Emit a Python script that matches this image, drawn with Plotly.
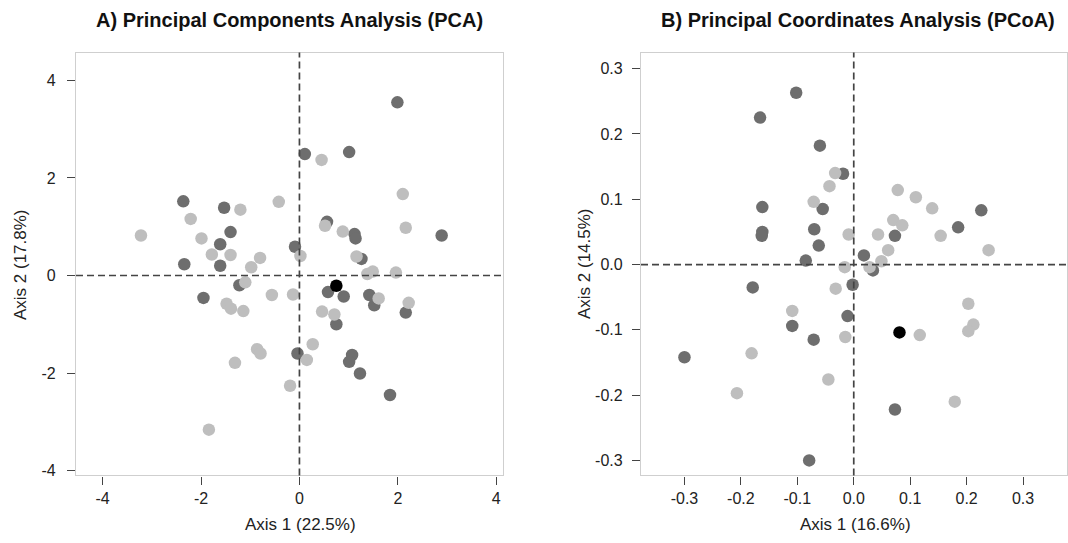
import plotly.graph_objects as go

# ---------------- Panel A: PCA ----------------
pca_dark_x = [0.11, -2.36, -1.53, -1.40, -1.61, -2.34, -1.61, -0.09, -1.22, 1.99, 1.01, 0.56, 1.12, 1.14,
              2.89, 1.26, -1.95, -0.04, 0.58, 0.90, 0.75, 1.07, 1.01, 1.23, 1.84, 1.42, 1.52, 2.16]
pca_dark_y = [2.49, 1.52, 1.39, 0.89, 0.64, 0.23, 0.20, 0.59, -0.20, 3.55, 2.53, 1.10, 0.85, 0.76,
              0.82, 0.34, -0.46, -1.60, -0.34, -0.43, -1.00, -1.63, -1.77, -2.01, -2.45, -0.40, -0.61, -0.76]
pca_light_x = [-1.20, -0.42, -2.21, -3.22, -1.99, -1.78, -1.40, -0.80, -0.98, 0.02, -1.10, 0.45, 2.10, 0.52,
               0.88, 2.16, 1.16, 1.38, 1.49, 1.96, -1.48, -1.39, -1.14, -0.56, -0.13, -0.86, -0.79, -1.31,
               0.15, -0.19, -1.84, 0.46, 0.71, 0.27, 1.61, 2.22]
pca_light_y = [1.35, 1.51, 1.16, 0.82, 0.76, 0.43, 0.42, 0.36, 0.17, 0.40, -0.14, 2.37, 1.67, 1.02,
               0.90, 0.98, 0.39, 0.03, 0.08, 0.06, -0.58, -0.68, -0.73, -0.40, -0.39, -1.51, -1.60, -1.79,
               -1.73, -2.26, -3.16, -0.74, -0.80, -1.41, -0.47, -0.56]
pca_black_x = [0.75]
pca_black_y = [-0.21]

# ---------------- Panel B: PCoA ----------------
pcoa_dark_x = [-0.102, -0.166, -0.060, -0.019, -0.055, -0.162, -0.162, -0.163, -0.070, -0.062, -0.085, -0.179,
               0.226, 0.185, 0.073, 0.018, 0.034, -0.002, -0.109, -0.071, -0.011, -0.300, -0.079, 0.073]
pcoa_dark_y = [0.263, 0.225, 0.182, 0.139, 0.085, 0.088, 0.050, 0.044, 0.054, 0.029, 0.006, -0.035,
               0.083, 0.057, 0.044, 0.014, -0.009, -0.031, -0.094, -0.115, -0.079, -0.142, -0.300, -0.222]
pcoa_light_x = [-0.033, -0.043, -0.071, -0.009, -0.016, -0.032, 0.078, 0.110, 0.139, 0.070, 0.086, 0.043,
                0.154, 0.061, 0.239, 0.049, 0.028, -0.109, -0.015, -0.181, -0.207, -0.045, 0.117, 0.203,
                0.212, 0.203, 0.179]
pcoa_light_y = [0.140, 0.120, 0.096, 0.046, -0.004, -0.037, 0.114, 0.103, 0.086, 0.068, 0.060, 0.046,
                0.044, 0.022, 0.022, 0.005, -0.004, -0.071, -0.111, -0.136, -0.197, -0.176, -0.108, -0.060,
                -0.092, -0.102, -0.210]
pcoa_black_x = [0.081]
pcoa_black_y = [-0.104]

pca_ticks = [-4, -2, 0, 2, 4]
pca_ticklabels = ["-4", "-2", "0", "2", "4"]
pcoa_xticks = [-0.3, -0.2, -0.1, 0.0, 0.1, 0.2, 0.3]
pcoa_xticklabels = ["-0.3", "-0.2", "-0.1", "0.0", "0.1", "0.2", "0.3"]
pcoa_yticks = [-0.3, -0.2, -0.1, 0.0, 0.1, 0.2, 0.3]
pcoa_yticklabels = ["-0.3", "-0.2", "-0.1", "0.0", "0.1", "0.2", "0.3"]

DARK = "#6e6e6e"
LIGHT = "#bebebe"
MS = 12.5

W, H = 1068, 543
fig = go.Figure()

def add_points(x, y, color, xa, ya):
    fig.add_trace(go.Scatter(x=x, y=y, mode="markers", xaxis=xa, yaxis=ya,
                             marker=dict(size=MS, color=color, line=dict(width=0)),
                             showlegend=False, hoverinfo="x+y"))

add_points(pca_dark_x, pca_dark_y, DARK, "x", "y")
add_points(pca_light_x, pca_light_y, LIGHT, "x", "y")
add_points(pca_black_x, pca_black_y, "#000000", "x", "y")
add_points(pcoa_dark_x, pcoa_dark_y, DARK, "x2", "y2")
add_points(pcoa_light_x, pcoa_light_y, LIGHT, "x2", "y2")
add_points(pcoa_black_x, pcoa_black_y, "#000000", "x2", "y2")

ytop = 1 - 53 / H
ybot = 1 - 479 / H

axis_common = dict(showgrid=False, zeroline=False, showline=True, mirror=True,
                   linecolor="#cfcfcf", linewidth=1.3,
                   ticks="outside", ticklen=8, tickwidth=1.3, tickcolor="#444444",
                   tickfont=dict(family="Liberation Sans, Arial", size=16, color="#222222"))

fig.update_layout(
    width=W, height=H,
    margin=dict(l=0, r=0, t=0, b=0),
    paper_bgcolor="white", plot_bgcolor="white",
    xaxis=dict(domain=[76 / W, 502.7 / W], range=[-4.54, 4.13], tickvals=pca_ticks,
               ticktext=pca_ticklabels, anchor="y", **axis_common),
    yaxis=dict(domain=[ybot, ytop], range=[-4.10, 4.57], tickvals=pca_ticks,
               ticktext=pca_ticklabels, ticklabelstandoff=8, anchor="x", **axis_common),
    xaxis2=dict(domain=[641 / W, 1066.5 / W], range=[-0.377, 0.377], tickvals=pcoa_xticks,
                ticktext=pcoa_xticklabels, anchor="y2", **axis_common),
    yaxis2=dict(domain=[ybot, ytop], range=[-0.323, 0.3245], tickvals=pcoa_yticks,
                ticktext=pcoa_yticklabels, ticklabelstandoff=6, anchor="x2", **axis_common),
)

dash_line = dict(color="#444444", width=1.7, dash="7px,4px")
for xr, yr in [("x", "y"), ("x2", "y2")]:
    fig.add_shape(type="line", xref=xr, yref=yr + " domain", x0=0, x1=0, y0=0, y1=1, line=dash_line)
    fig.add_shape(type="line", xref=xr + " domain", yref=yr, x0=0, x1=1, y0=0, y1=0, line=dash_line)

title_font = dict(family="Liberation Sans, Arial", size=20, color="#111111")
label_font = dict(family="Liberation Sans, Arial", size=17, color="#222222")

annots = [
    dict(text="<b>A) Principal Components Analysis (PCA)</b>", x=289 / W, y=1 - 20 / H, font=title_font),
    dict(text="<b>B) Principal Coordinates Analysis (PCoA)</b>", x=858 / W, y=1 - 20 / H, font=title_font),
    dict(text="Axis 1 (22.5%)", x=300 / W, y=1 - 528 / H, font=label_font),
    dict(text="Axis 1 (16.6%)", x=855 / W, y=1 - 528 / H, font=label_font),
    dict(text="Axis 2 (17.8%)", x=20 / W, y=1 - 267 / H, font=label_font, textangle=-90),
    dict(text="Axis 2 (14.5%)", x=584 / W, y=1 - 266 / H, font=label_font, textangle=-90),
]
for a in annots:
    fig.add_annotation(xref="paper", yref="paper", showarrow=False,
                       xanchor="center", yanchor="middle", **a)

fig.write_html("out.html")
